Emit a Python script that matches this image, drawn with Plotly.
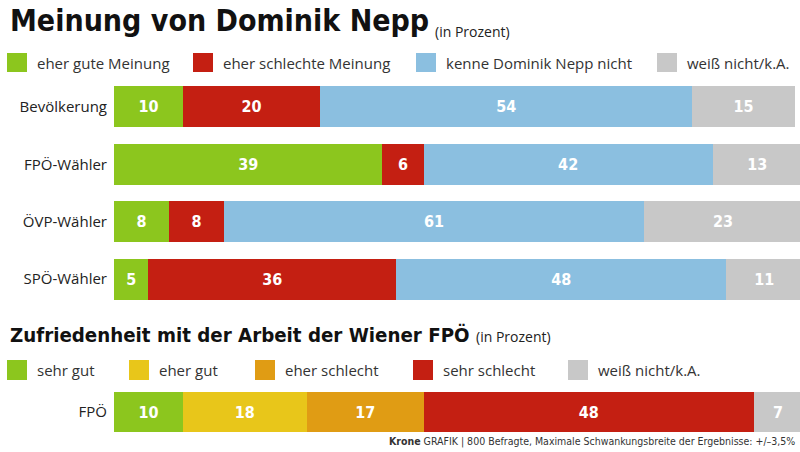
import plotly.graph_objects as go

# ---- data ----
top_title = "Meinung von Dominik Nepp"
bottom_title = "Zufriedenheit mit der Arbeit der Wiener FPÖ"
unit_note = "(in Prozent)"

top_groups = ["Bevölkerung", "FPÖ-Wähler", "ÖVP-Wähler", "SPÖ-Wähler"]
top_series = ["eher gute Meinung", "eher schlechte Meinung", "kenne Dominik Nepp nicht", "weiß nicht/k.A."]
gute = [10, 39, 8, 5]
schlechte = [20, 6, 8, 36]
kenne_nicht = [54, 42, 61, 48]
weiss_nicht_top = [15, 13, 23, 11]
top_values = [gute, schlechte, kenne_nicht, weiss_nicht_top]

bottom_groups = ["FPÖ"]
bottom_series = ["sehr gut", "eher gut", "eher schlecht", "sehr schlecht", "weiß nicht/k.A."]
sehr_gut = [10]
eher_gut = [18]
eher_schlecht = [17]
sehr_schlecht = [48]
weiss_nicht_bot = [7]
bottom_values = [sehr_gut, eher_gut, eher_schlecht, sehr_schlecht, weiss_nicht_bot]

source = "<b>Krone</b> GRAFIK | 800 Befragte, Maximale Schwankungsbreite der Ergebnisse: +/–3,5%"

# ---- styles ----
GREEN = "#8cc61e"
RED = "#c41f12"
BLUE = "#8bbfe0"
GRAY = "#c8c8c8"
YELLOW = "#e8c61a"
ORANGE = "#e09c14"
top_colors = [GREEN, RED, BLUE, GRAY]
bottom_colors = [GREEN, YELLOW, ORANGE, RED, GRAY]

W, H = 800, 452
COND = "DejaVu Sans Condensed, Roboto, sans-serif"
BODY = "Open Sans, Noto Sans, sans-serif"

fig = go.Figure()

for name, vals, col in zip(top_series, top_values, top_colors):
    fig.add_trace(go.Bar(
        x=vals, y=top_groups, orientation="h", name=name,
        marker=dict(color=col, line=dict(width=0)),
        text=vals, textposition="inside", insidetextanchor="middle",
        constraintext="none", textangle=0,
        textfont=dict(family=COND, size=16, color="white", weight="bold"),
        xaxis="x", yaxis="y", showlegend=False, hoverinfo="skip",
    ))

for name, vals, col in zip(bottom_series, bottom_values, bottom_colors):
    fig.add_trace(go.Bar(
        x=vals, y=bottom_groups, orientation="h", name=name,
        marker=dict(color=col, line=dict(width=0)),
        text=vals, textposition="inside", insidetextanchor="middle",
        constraintext="none", textangle=0,
        textfont=dict(family=COND, size=16, color="white", weight="bold"),
        xaxis="x2", yaxis="y2", showlegend=False, hoverinfo="skip",
    ))

x0 = 114 / W
def py(p):
    return 1 - p / H

axis_common = dict(showgrid=False, zeroline=False, showline=False, showticklabels=False,
                   range=[0, 99.7], fixedrange=True, automargin=False)
yaxis_common = dict(showgrid=False, zeroline=False, showline=False, ticks="",
                    tickfont=dict(family=BODY, size=15, color="#222222"),
                    ticklabelstandoff=6, fixedrange=True, automargin=False)

fig.update_layout(
    width=W, height=H,
    margin=dict(l=0, r=0, t=0, b=0, pad=0),
    paper_bgcolor="white", plot_bgcolor="white",
    barmode="stack", bargap=0.285,
    xaxis=dict(domain=[x0, 1], anchor="y", **axis_common),
    yaxis=dict(domain=[py(307.7), py(78.3)], anchor="x", type="category",
               categoryorder="array", categoryarray=top_groups, range=[3.5, -0.5],
               **yaxis_common),
    xaxis2=dict(domain=[x0, 1], anchor="y2", **axis_common),
    yaxis2=dict(domain=[py(440.6), py(383.4)], anchor="x2", type="category",
                range=[0.5, -0.5], **yaxis_common),
    showlegend=False,
)

annotations = []
shapes = []

# titles
annotations.append(dict(x=8 / W, y=py(40.5), xref="paper", yref="paper", xanchor="left", yanchor="bottom",
                        text=f"<b>{top_title}</b>", showarrow=False,
                        font=dict(family=COND, size=30, color="#111111")))
annotations.append(dict(x=433 / W, y=py(43), xref="paper", yref="paper", xanchor="left", yanchor="bottom",
                        text=unit_note, showarrow=False,
                        font=dict(family=BODY, size=14, color="#222222")))
annotations.append(dict(x=8 / W, y=py(348.5), xref="paper", yref="paper", xanchor="left", yanchor="bottom",
                        text=f"<b>{bottom_title}</b>", showarrow=False,
                        font=dict(family=COND, size=20.3, color="#111111")))
annotations.append(dict(x=474 / W, y=py(348), xref="paper", yref="paper", xanchor="left", yanchor="bottom",
                        text=unit_note, showarrow=False,
                        font=dict(family=BODY, size=14, color="#222222")))

# legends
top_leg_x = [7, 193, 416, 657]
for lx, name, col in zip(top_leg_x, top_series, top_colors):
    shapes.append(dict(type="rect", xref="paper", yref="paper",
                       x0=lx / W, x1=(lx + 20) / W, y0=py(72), y1=py(53),
                       fillcolor=col, line=dict(width=0)))
    annotations.append(dict(x=(lx + 28) / W, y=py(62.5), xref="paper", yref="paper",
                            xanchor="left", yanchor="middle", text=name, showarrow=False,
                            font=dict(family=BODY, size=15, color="#333333")))

bot_leg_x = [7, 129, 255, 413, 568]
for lx, name, col in zip(bot_leg_x, bottom_series, bottom_colors):
    shapes.append(dict(type="rect", xref="paper", yref="paper",
                       x0=lx / W, x1=(lx + 20) / W, y0=py(380), y1=py(360),
                       fillcolor=col, line=dict(width=0)))
    annotations.append(dict(x=(lx + 28) / W, y=py(370), xref="paper", yref="paper",
                            xanchor="left", yanchor="middle", text=name, showarrow=False,
                            font=dict(family=BODY, size=15, color="#333333")))

# source
annotations.append(dict(x=797 / W, y=py(441), xref="paper", yref="paper", xanchor="right", yanchor="middle",
                        text=source, showarrow=False,
                        font=dict(family=COND, size=10.5, color="#333333")))

fig.update_layout(annotations=annotations, shapes=shapes)

fig.write_html("out.html", config={"displayModeBar": False},
               post_script="document.body.style.margin='0';document.body.style.padding='0';")
